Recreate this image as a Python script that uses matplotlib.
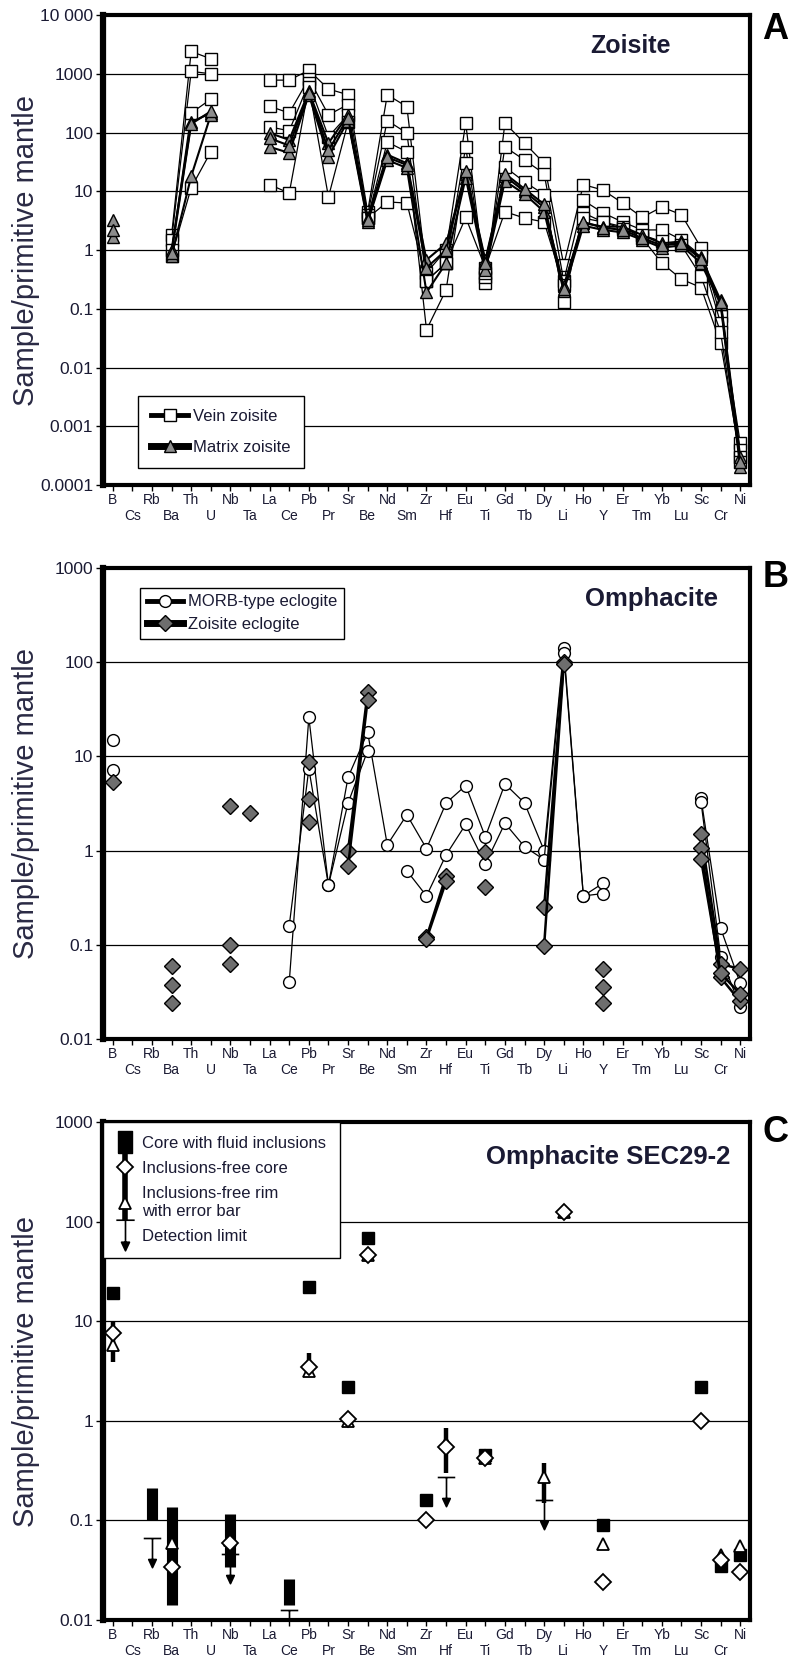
import numpy as np
import matplotlib.pyplot as plt
from matplotlib.lines import Line2D
from matplotlib.path import Path
from matplotlib.ticker import FixedLocator, FuncFormatter, NullLocator

plt.rcParams['font.family'] = ['Liberation Sans', 'DejaVu Sans']

nan = np.nan
TXT = '#1a1a33'

elements = ['B', 'Cs', 'Rb', 'Ba', 'Th', 'U', 'Nb', 'Ta', 'La', 'Ce', 'Pb', 'Pr', 'Sr',
            'Be', 'Nd', 'Sm', 'Zr', 'Hf', 'Eu', 'Ti', 'Gd', 'Tb', 'Dy', 'Li', 'Ho', 'Y',
            'Er', 'Tm', 'Yb', 'Lu', 'Sc', 'Cr', 'Ni']

# --- A: zoisite (normalised to primitive mantle) ---
vein_zoisite = [
    {'Ba': 1.8, 'Th': 2400, 'U': 1800, 'La': 780, 'Ce': 780, 'Pb': 1150, 'Pr': 550, 'Sr': 440,
     'Be': 4.5, 'Nd': 440, 'Sm': 275, 'Zr': 0.41, 'Hf': 1.0, 'Eu': 145, 'Ti': 0.27, 'Gd': 145,
     'Tb': 66, 'Dy': 30, 'Li': 0.56, 'Ho': 13, 'Y': 10.5, 'Er': 6.3, 'Tm': 3.6, 'Yb': 5.4,
     'Lu': 4.0, 'Sc': 1.1, 'Cr': 0.074, 'Ni': 0.00052},
    {'Ba': 1.5, 'Th': 1100, 'U': 1000, 'La': 280, 'Ce': 215, 'Pb': 830, 'Pr': 200, 'Sr': 300,
     'Be': 4.0, 'Nd': 160, 'Sm': 98, 'Zr': 0.3, 'Hf': 0.6, 'Eu': 57, 'Ti': 0.35, 'Gd': 57,
     'Tb': 34, 'Dy': 20, 'Li': 0.3, 'Ho': 7, 'Y': 4.3, 'Er': 3.0, 'Tm': 2.2, 'Yb': 2.2,
     'Lu': 1.5, 'Sc': 0.8, 'Cr': 0.057, 'Ni': 0.0004},
    {'Ba': 1.0, 'Th': 215, 'U': 370, 'La': 125, 'Ce': 107, 'Pb': 700, 'Pr': 85, 'Sr': 200,
     'Be': 3.5, 'Nd': 69, 'Sm': 47, 'Zr': 0.044, 'Hf': 0.21, 'Eu': 30, 'Ti': 0.4, 'Gd': 26,
     'Tb': 14.5, 'Dy': 8.8, 'Li': 0.13, 'Ho': 4.3, 'Y': 3.0, 'Er': 2.5, 'Tm': 1.6, 'Yb': 0.6,
     'Lu': 0.32, 'Sc': 0.23, 'Cr': 0.026, 'Ni': 0.0003},
    {'Ba': 0.8, 'Th': 11.5, 'U': 47, 'La': 13, 'Ce': 9.3, 'Pb': 600, 'Pr': 8, 'Sr': 150,
     'Be': 3.5, 'Nd': 6.6, 'Sm': 6.3, 'Zr': 0.3, 'Hf': 0.6, 'Eu': 3.6, 'Ti': 0.5, 'Gd': 4.5,
     'Tb': 3.5, 'Dy': 3.0, 'Li': 0.25, 'Ho': 3.5, 'Y': 3.0, 'Er': 2.3, 'Tm': 1.8, 'Yb': 1.4,
     'Lu': 1.2, 'Sc': 0.36, 'Cr': 0.04, 'Ni': 0.00025},
]
matrix_zoisite = [
    {'B': 3.2, 'Ba': 1.0, 'Th': 150, 'U': 215, 'La': 98, 'Ce': 75, 'Pb': 500, 'Pr': 66, 'Sr': 200,
     'Be': 3.5, 'Nd': 42, 'Sm': 30, 'Zr': 0.68, 'Hf': 1.3, 'Eu': 20, 'Ti': 0.68, 'Gd': 18,
     'Tb': 10, 'Dy': 5.3, 'Li': 0.24, 'Ho': 2.9, 'Y': 2.5, 'Er': 2.5, 'Tm': 1.8, 'Yb': 1.3,
     'Lu': 1.4, 'Sc': 0.75, 'Cr': 0.14, 'Ni': 0.0003},
    {'B': 1.7, 'Ba': 0.8, 'Th': 18, 'U': 200, 'La': 57, 'Ce': 45, 'Pb': 440, 'Pr': 39, 'Sr': 160,
     'Be': 3.0, 'Nd': 34, 'Sm': 25, 'Zr': 0.19, 'Hf': 0.6, 'Eu': 17, 'Ti': 0.46, 'Gd': 15,
     'Tb': 9, 'Dy': 4.5, 'Li': 0.2, 'Ho': 2.6, 'Y': 2.2, 'Er': 2.0, 'Tm': 1.5, 'Yb': 1.1,
     'Lu': 1.2, 'Sc': 0.6, 'Cr': 0.12, 'Ni': 0.0002},
    {'B': 2.2, 'Ba': 0.9, 'Th': 140, 'U': 230, 'La': 80, 'Ce': 60, 'Pb': 480, 'Pr': 50, 'Sr': 180,
     'Be': 3.2, 'Nd': 38, 'Sm': 28, 'Zr': 0.5, 'Hf': 1.0, 'Eu': 22, 'Ti': 0.6, 'Gd': 20,
     'Tb': 11, 'Dy': 6, 'Li': 0.22, 'Ho': 3.0, 'Y': 2.4, 'Er': 2.2, 'Tm': 1.6, 'Yb': 1.2,
     'Lu': 1.3, 'Sc': 0.7, 'Cr': 0.13, 'Ni': 0.00025},
]

# --- B: omphacite ---
morb_eclogite = [
    {'B': 14.8, 'Ce': 0.04, 'Pb': 26, 'Pr': 0.43, 'Sr': 6.0, 'Be': 18, 'Nd': 1.15, 'Sm': 2.4,
     'Zr': 1.05, 'Hf': 3.2, 'Eu': 4.9, 'Ti': 1.4, 'Gd': 5.1, 'Tb': 3.2, 'Dy': 1.0, 'Li': 140,
     'Ho': 0.33, 'Y': 0.45, 'Sc': 3.6, 'Cr': 0.15, 'Ni': 0.039},
    {'B': 7.2, 'Ce': 0.16, 'Pb': 7.4, 'Pr': 0.43, 'Sr': 3.2, 'Be': 11.5, 'Sm': 0.61,
     'Zr': 0.33, 'Hf': 0.9, 'Eu': 1.9, 'Ti': 0.72, 'Gd': 1.95, 'Tb': 1.1, 'Dy': 0.8, 'Li': 125,
     'Ho': 0.33, 'Y': 0.35, 'Sc': 3.3, 'Cr': 0.075, 'Ni': 0.022},
]
zoisite_eclogite = [
    {'B': 5.3, 'Ba': 0.06, 'Nb': 0.1, 'Pb': 8.7, 'Sr': 1.0, 'Be': 48, 'Zr': 0.12, 'Hf': 0.54,
     'Ti': 0.97, 'Dy': 0.25, 'Li': 100, 'Y': 0.055, 'Sc': 1.5, 'Cr': 0.063, 'Ni': 0.055},
    {'Ba': 0.037, 'Nb': 0.063, 'Pb': 3.5, 'Sr': 0.68, 'Be': 40, 'Zr': 0.115, 'Hf': 0.47,
     'Ti': 0.41, 'Dy': 0.098, 'Li': 95, 'Y': 0.036, 'Sc': 1.07, 'Cr': 0.045, 'Ni': 0.025},
    {'Ba': 0.024, 'Pb': 2.0, 'Y': 0.024, 'Sc': 0.81, 'Cr': 0.05, 'Ni': 0.03},
]
zoisite_eclogite_hfse = {'Nb': 3.0, 'Ta': 2.5}

# --- C: omphacite SEC29-2 ---
core_fluid = {'B': 19, 'Pb': 22, 'Sr': 2.2, 'Be': 68, 'Zr': 0.16, 'Ti': 0.45, 'Y': 0.09,
              'Sc': 2.2, 'Cr': 0.035, 'Ni': 0.045}
core_fluid_range = {'Rb': (0.1, 0.21), 'Ba': (0.014, 0.135), 'Nb': (0.034, 0.117),
                    'Ce': (0.014, 0.026)}
free_core = {'B': 7.6, 'Ba': 0.034, 'Nb': 0.06, 'Pb': 3.5, 'Sr': 1.05, 'Be': 46, 'Zr': 0.1,
             'Hf': 0.55, 'Ti': 0.42, 'Li': 125, 'Y': 0.024, 'Sc': 1.0, 'Cr': 0.04, 'Ni': 0.03}
free_rim = {'B': 5.8, 'Ba': 0.06, 'Nb': 0.063, 'Pb': 3.2, 'Sr': 1.0, 'Be': 46, 'Hf': 0.6,
            'Ti': 0.42, 'Dy': 0.27, 'Li': 125, 'Y': 0.058, 'Cr': 0.045, 'Ni': 0.055}
free_rim_err = {'B': (3.9, 9.8), 'Pb': (2.75, 4.8), 'Sr': (0.9, 1.15), 'Hf': (0.3, 0.85),
                'Dy': (0.15, 0.38), 'Li': (110, 140), 'Ba': (0.045, 0.075), 'Nb': (0.05, 0.075)}
detection_limit = {'Rb': 0.066, 'Nb': 0.046, 'Ce': 0.0126, 'Hf': 0.27, 'Dy': 0.16}

x = np.arange(len(elements))
idx = {e: i for i, e in enumerate(elements)}


def series(d):
    return np.array([d.get(e, nan) for e in elements], float)


def pts(d):
    return [idx[e] for e in d], list(d.values())


def det_marker(shift=0.0):
    verts = [(-0.3, shift), (0.3, shift), (0, shift), (0, shift - 0.72),
             (-0.13, shift - 0.72), (0.13, shift - 0.72), (0, shift - 1.0), (0, 0)]
    codes = [Path.MOVETO, Path.LINETO, Path.MOVETO, Path.LINETO,
             Path.MOVETO, Path.LINETO, Path.LINETO, Path.CLOSEPOLY]
    return Path(verts, codes)


def yfmt(v, pos):
    if v >= 10000:
        return '10 000'
    if v >= 1:
        return '%d' % round(v)
    n = int(round(-np.log10(v)))
    return '%.*f' % (n, v)


def style_axes(ax, ylo, yhi):
    ax.set_yscale('log')
    ax.set_xlim(-0.5, len(elements) - 0.5)
    ax.set_ylim(ylo, yhi)
    decades = [10.0 ** k for k in range(int(np.log10(ylo)), int(np.log10(yhi)) + 1)]
    ax.yaxis.set_major_locator(FixedLocator(decades))
    ax.yaxis.set_minor_locator(NullLocator())
    ax.yaxis.set_major_formatter(FuncFormatter(yfmt))
    for d in decades[1:-1]:
        ax.axhline(d, color='k', lw=0.9, zorder=1)
    ax.set_xticks(x[::2])
    ax.set_xticklabels(elements[::2])
    ax.set_xticks(x[1::2], minor=True)
    ax.set_xticklabels(elements[1::2], minor=True)
    ax.tick_params(axis='x', which='major', length=4, width=1, pad=2, labelsize=10,
                   labelcolor=TXT)
    ax.tick_params(axis='x', which='minor', length=4, width=1, pad=13.5, labelsize=10,
                   labelcolor=TXT)
    ax.tick_params(axis='y', length=5, width=1, pad=2, labelsize=12.5, labelcolor=TXT)
    for side in ['top', 'right', 'bottom']:
        ax.spines[side].set_linewidth(3)
    ax.spines['left'].set_linewidth(4.5)
    ax.set_ylabel('Sample/primitive mantle', fontsize=21, color='#2a2a44')
    ax.yaxis.set_label_coords(-0.097, 0.5)


def finish_legend(leg):
    leg.get_frame().set_linewidth(1.0)
    for t in leg.get_texts():
        t.set_color(TXT)


fig = plt.figure(figsize=(7.92, 16.72), dpi=100)
axA = fig.add_axes([0.130, 0.7099, 0.817, 0.2811])
axB = fig.add_axes([0.130, 0.3786, 0.817, 0.2817])
axC = fig.add_axes([0.130, 0.0311, 0.817, 0.2978])

# ---------- A ----------
style_axes(axA, 1e-4, 1e4)
for s in vein_zoisite:
    axA.plot(x, series(s), color='k', lw=0.9, marker='s', ms=8, mfc='white', mec='k',
             mew=1.0, zorder=3)
for s in matrix_zoisite:
    axA.plot(x, series(s), color='k', lw=1.5, marker='^', ms=8, mfc='#8c8c8c', mec='k',
             mew=1.0, zorder=4)
axA.text(0.816, 0.935, 'Zoisite', transform=axA.transAxes, ha='center', va='center',
         fontsize=18, fontweight='bold', color=TXT)
legA = axA.legend(handles=[
    Line2D([], [], color='k', lw=3.5, marker='s', ms=8, mfc='white', mec='k'),
    Line2D([], [], color='k', lw=5, marker='^', ms=8, mfc='#8c8c8c', mec='k')],
    labels=['Vein zoisite', 'Matrix zoisite'], loc='lower left',
    bbox_to_anchor=(0.054, 0.036), borderaxespad=0, fontsize=12, handlelength=2.2,
    handletextpad=0.3, labelspacing=0.95, borderpad=0.8, fancybox=False, framealpha=1,
    edgecolor='k')
finish_legend(legA)

# ---------- B ----------
style_axes(axB, 1e-2, 1e3)
for s in morb_eclogite:
    axB.plot(x, series(s), color='k', lw=0.9, marker='o', ms=8.5, mfc='white', mec='k',
             mew=1.0, zorder=3)
for s in zoisite_eclogite:
    axB.plot(x, series(s), color='k', lw=1.8, marker='D', ms=8, mfc='#6e6e6e', mec='k',
             mew=1.0, zorder=4)
hx, hy = pts(zoisite_eclogite_hfse)
axB.plot(hx, hy, ls='none', marker='D', ms=8, mfc='#6e6e6e', mec='k', mew=1.0, zorder=4)
axB.text(0.95, 0.935, 'Omphacite', transform=axB.transAxes, ha='right', va='center',
         fontsize=18.5, fontweight='bold', color=TXT)
legB = axB.legend(handles=[
    Line2D([], [], color='k', lw=3.5, marker='o', ms=8.5, mfc='white', mec='k'),
    Line2D([], [], color='k', lw=5, marker='D', ms=8, mfc='#6e6e6e', mec='k')],
    labels=['MORB-type eclogite', 'Zoisite eclogite'], loc='upper left',
    bbox_to_anchor=(0.057, 0.958), borderaxespad=0, fontsize=12, handlelength=2.2,
    handletextpad=0.3, labelspacing=0.45, borderpad=0.4, fancybox=False, framealpha=1,
    edgecolor='k')
finish_legend(legB)

# ---------- C ----------
style_axes(axC, 1e-2, 1e3)
for e, (lo, hi) in core_fluid_range.items():
    axC.vlines(idx[e], lo, hi, color='k', lw=8, zorder=3)
cx, cy = pts(core_fluid)
axC.plot(cx, cy, ls='none', marker='s', ms=9, color='k', zorder=3)
for e, (lo, hi) in free_rim_err.items():
    axC.vlines(idx[e], lo, hi, color='k', lw=3.2, zorder=4)
dx, dy = pts(detection_limit)
axC.plot(dx, dy, ls='none', marker=det_marker(), ms=42, mfc='k', mec='k', mew=1.2, zorder=4)
rx, ry = pts(free_rim)
axC.plot(rx, ry, ls='none', marker='^', ms=8.5, mfc='white', mec='k', mew=1.3, zorder=5)
fx, fy = pts(free_core)
axC.plot(fx, fy, ls='none', marker='D', ms=8, mfc='white', mec='k', mew=1.3, zorder=6)
axC.text(0.97, 0.93, 'Omphacite SEC29-2', transform=axC.transAxes, ha='right', va='center',
         fontsize=18.5, fontweight='bold', color=TXT)

bar = dict(ls='none', marker='|', ms=26, mew=4, color='k')
rect = Path([(-0.3, -0.5), (0.3, -0.5), (0.3, 0.5), (-0.3, 0.5), (-0.3, -0.5)])
legC = axC.legend(handles=[
    Line2D([], [], ls='none', marker=rect, ms=16, color='k'),
    (Line2D([], [], **bar),
     Line2D([], [], ls='none', marker='D', ms=8, mfc='white', mec='k', mew=1.3)),
    (Line2D([], [], **bar),
     Line2D([], [], ls='none', marker='^', ms=8.5, mfc='white', mec='k', mew=1.3)),
    Line2D([], [], ls='none', marker=det_marker(0.5), ms=22, mfc='k', mec='k', mew=1.2)],
    labels=['Core with fluid inclusions', 'Inclusions-free core',
            'Inclusions-free rim\nwith error bar', 'Detection limit'],
    loc='upper left', bbox_to_anchor=(0.0, 1.0), borderaxespad=0, fontsize=12,
    handlelength=0.9, handletextpad=0.6, labelspacing=0.6, borderpad=0.85,
    fancybox=False, framealpha=1, edgecolor='k')
finish_legend(legC)

# panel letters
for lab, yy in [('A', 0.993), ('B', 0.665), ('C', 0.333)]:
    fig.text(0.979, yy, lab, ha='center', va='top', fontsize=26, fontweight='bold', color='k')

fig.savefig('out.png', dpi=100)
